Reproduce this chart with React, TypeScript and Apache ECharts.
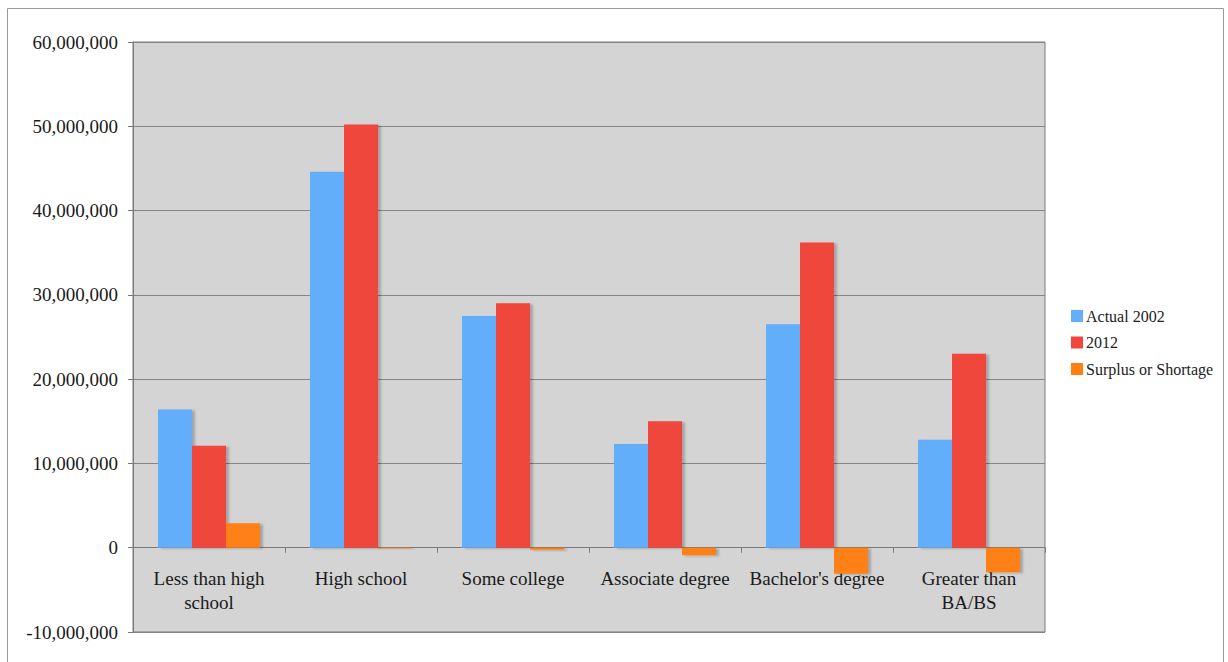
import React, { useEffect, useRef } from "react";
import * as echarts from "echarts";

const categories = [
  "Less than high school",
  "High school",
  "Some college",
  "Associate degree",
  "Bachelor's degree",
  "Greater than BA/BS",
];
const actual2002 = [16400000, 44600000, 27500000, 12300000, 26500000, 12800000];
const year2012 = [12100000, 50200000, 29000000, 15000000, 36200000, 23000000];
const surplusShortage = [2900000, -100000, -250000, -900000, -3100000, -2900000];
const seriesNames = ["Actual 2002", "2012", "Surplus or Shortage"];
const yTicks = { min: -10000000, max: 60000000, interval: 10000000 };

const FONT = "'Liberation Serif', 'Times New Roman', serif";

// word-wrap a label so that no line exceeds maxChars characters
function wrapWords(s: string, maxChars: number): string {
  const words = s.split(" ");
  const lines: string[] = [];
  let cur = "";
  for (const w of words) {
    const next = cur ? cur + " " + w : w;
    if (next.length > maxChars && cur) {
      lines.push(cur);
      cur = w;
    } else {
      cur = next;
    }
  }
  if (cur) lines.push(cur);
  return lines.join("\n");
}

export default function App() {
  const ref = useRef<HTMLDivElement>(null);
  useEffect(() => {
    if (!ref.current) return;
    const chart = echarts.init(ref.current, null, { renderer: "svg" });
    const shadow = {
      shadowColor: "rgba(0,0,0,0.22)",
      shadowBlur: 2,
      shadowOffsetX: 3,
      shadowOffsetY: 1,
    };
    const colors = ["#64aefb", "#f0463e", "#ff8012"];
    const dataSets = [actual2002, year2012, surplusShortage];
    chart.setOption({
      animation: false,
      backgroundColor: "#ffffff",
      textStyle: { fontFamily: FONT },
      graphic: [
        {
          type: "rect",
          shape: { x: 7.5, y: 8.5, width: 1216, height: 700 },
          style: { fill: "none", stroke: "#9a9a9a", lineWidth: 1 },
          silent: true,
          z: -10,
        },
      ],
      legend: {
        orient: "vertical",
        left: 1066,
        top: 303,
        itemWidth: 12,
        itemHeight: 12,
        itemGap: 10.5,
        icon: "rect",
        data: seriesNames,
        textStyle: {
          fontFamily: FONT,
          fontSize: 16,
          color: "#222",
          lineHeight: 16,
          padding: [0, 0, 0, -2],
        },
      },
      grid: {
        left: 133,
        top: 42,
        right: 183,
        bottom: 30,
        containLabel: false,
        outerBoundsMode: "none",
        show: true,
        backgroundColor: "#d4d4d4",
        borderColor: "#7a7a7a",
        borderWidth: 1,
      },
      xAxis: {
        type: "category",
        data: categories,
        z: 0,
        axisLine: { onZero: true, lineStyle: { color: "#7a7a7a", width: 1 } },
        axisTick: { show: true, length: 5, lineStyle: { color: "#7a7a7a" } },
        axisLabel: {
          fontFamily: FONT,
          fontSize: 19,
          color: "#1a1a1a",
          margin: -66,
          lineHeight: 24,
          interval: 0,
          formatter: (v: string) => wrapWords(v, 17),
        },
        splitLine: { show: false },
      },
      yAxis: {
        type: "value",
        min: yTicks.min,
        max: yTicks.max,
        interval: yTicks.interval,
        axisLine: { show: true, lineStyle: { color: "#7a7a7a" } },
        axisTick: { show: true, length: 5, lineStyle: { color: "#7a7a7a" } },
        axisLabel: {
          fontFamily: FONT,
          fontSize: 19,
          color: "#1a1a1a",
          margin: 15,
          formatter: (v: number) => v.toLocaleString("en-US"),
        },
        splitLine: { show: true, lineStyle: { color: "#858585", width: 1 } },
      },
      series: seriesNames.map((name, i) => ({
        name,
        type: "bar",
        z: 10,
        data: dataSets[i],
        barWidth: 34,
        barGap: "0%",
        itemStyle: { color: colors[i], ...shadow },
      })),
    });
    return () => chart.dispose();
  }, []);
  return (
    <div
      ref={ref}
      style={{ position: "fixed", left: 0, top: 0, width: 1228, height: 662 }}
    />
  );
}
